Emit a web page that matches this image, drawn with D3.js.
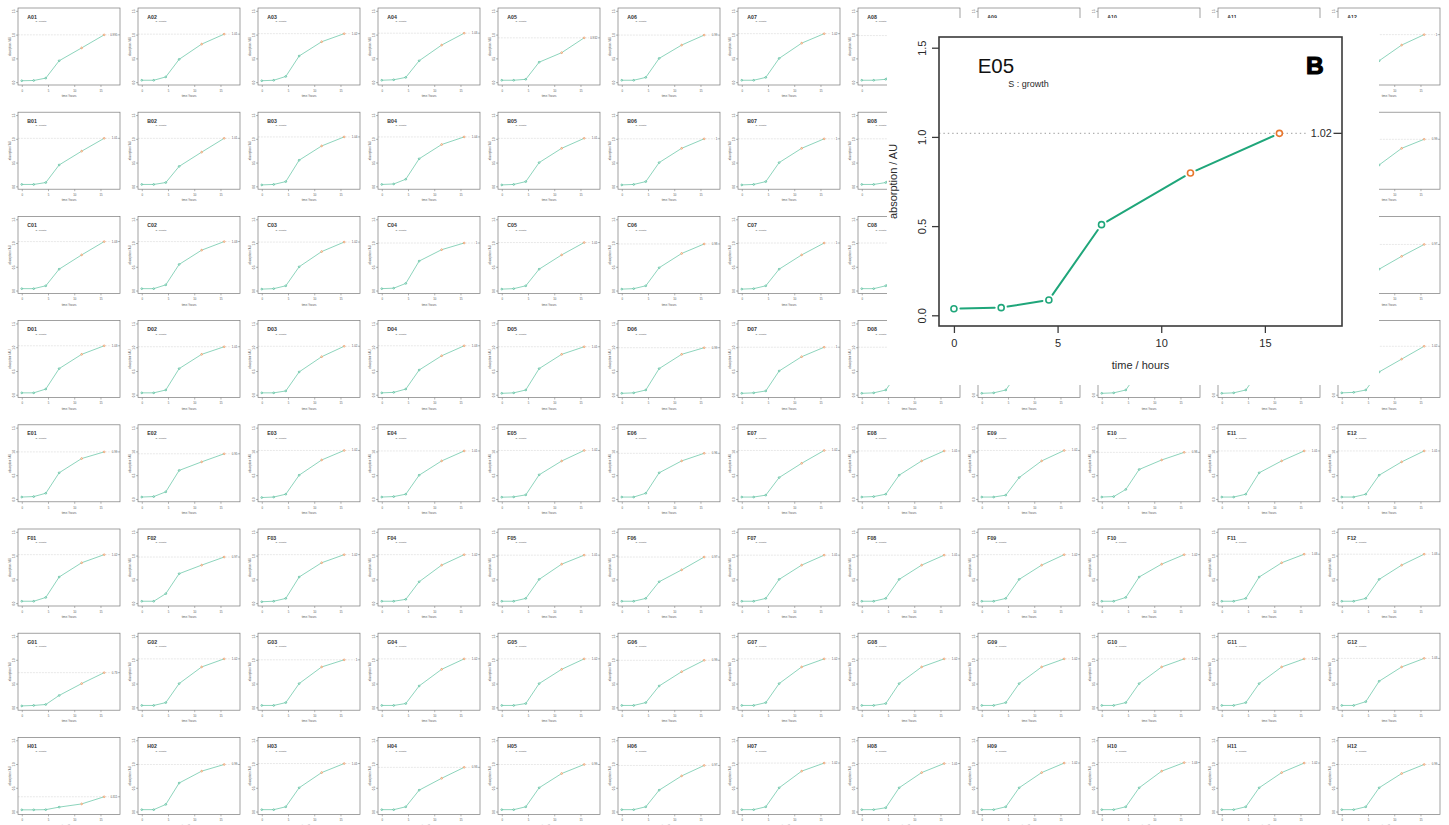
<!DOCTYPE html>
<html>
<head>
<meta charset="utf-8">
<script src="https://cdn.jsdelivr.net/npm/d3@7"></script>
<style>
  html, body { margin: 0; padding: 0; background: #fff; }
  svg { display: block; font-family: "Liberation Sans", Arial, Helvetica, sans-serif; }
</style>
</head>
<body>
<svg id="plate" width="1449" height="825"></svg>
<script>
// Sampling times (hours) shared by every well
const hours = [0, 2.28, 4.58, 7.12, 11.41, 15.7];
// Colour group of each sample: early points green, last two orange
const sampleGroup = ["early", "early", "early", "early", "late", "late"];
const rowLetters = ["A", "B", "C", "D", "E", "F", "G", "H"];
const colNumbers = ["01", "02", "03", "04", "05", "06", "07", "08", "09", "10", "11", "12"];
const xTicks = [0, 5, 10, 15];
const yTicks = [0, 0.5, 1.0, 1.5];
const xLimits = [0, 18];
const yLimits = [0, 1.5];
const statusText = "S : growth";
const xTitle = "time / hours";
const yTitle = "absorption / AU";
const zoomedWell = "E05";
const panelTag = "B";

// Absorption per well (one row of the plate per array); null = well not shown
const rowA = [
  [0.03, 0.035, 0.085, 0.45, 0.72, 0.995],
  [0.04, 0.04, 0.11, 0.48, 0.80, 1.01],
  [0.03, 0.04, 0.12, 0.55, 0.85, 1.02],
  [0.04, 0.05, 0.10, 0.45, 0.78, 1.03],
  [0.04, 0.04, 0.06, 0.42, 0.62, 0.932],
  [0.04, 0.04, 0.10, 0.50, 0.78, 0.99],
  [0.04, 0.04, 0.10, 0.50, 0.82, 1.02],
  [0.04, 0.04, 0.06, 0.45, 0.75, 0.98],
  null, null, null,
  [0.04, 0.04, 0.10, 0.45, 0.78, 1.00]
];
const rowB = [
  [0.04, 0.04, 0.08, 0.45, 0.74, 1.01],
  [0.04, 0.04, 0.08, 0.42, 0.72, 1.01],
  [0.03, 0.04, 0.10, 0.55, 0.85, 1.04],
  [0.04, 0.05, 0.15, 0.58, 0.88, 1.04],
  [0.03, 0.04, 0.10, 0.50, 0.80, 1.01],
  [0.03, 0.04, 0.10, 0.50, 0.80, 1.00],
  [0.03, 0.04, 0.10, 0.50, 0.80, 1.00],
  [0.04, 0.04, 0.08, 0.45, 0.75, 1.00],
  null, null, null,
  [0.04, 0.04, 0.10, 0.45, 0.80, 0.99]
];
const rowC = [
  [0.04, 0.04, 0.10, 0.45, 0.75, 1.03],
  [0.04, 0.04, 0.12, 0.55, 0.85, 1.03],
  [0.03, 0.04, 0.10, 0.50, 0.82, 1.02],
  [0.04, 0.05, 0.15, 0.62, 0.86, 1.00],
  [0.03, 0.04, 0.10, 0.45, 0.75, 1.01],
  [0.03, 0.04, 0.10, 0.48, 0.78, 0.98],
  [0.03, 0.04, 0.10, 0.45, 0.75, 1.00],
  [0.04, 0.04, 0.10, 0.45, 0.75, 1.00],
  null, null, null,
  [0.04, 0.04, 0.10, 0.45, 0.72, 0.97]
];
const rowD = [
  [0.04, 0.04, 0.12, 0.55, 0.85, 1.03],
  [0.04, 0.04, 0.10, 0.55, 0.85, 1.01],
  [0.04, 0.04, 0.08, 0.48, 0.80, 1.02],
  [0.04, 0.05, 0.12, 0.52, 0.82, 1.03],
  [0.03, 0.04, 0.10, 0.55, 0.85, 1.01],
  [0.03, 0.04, 0.10, 0.55, 0.85, 0.99],
  [0.03, 0.04, 0.08, 0.50, 0.80, 1.00],
  [0.03, 0.04, 0.10, 0.50, 0.80, 1.00],
  [0.03, 0.04, 0.10, 0.50, 0.80, 1.00],
  [0.03, 0.04, 0.10, 0.50, 0.80, 1.00],
  [0.03, 0.04, 0.10, 0.50, 0.80, 1.00],
  [0.04, 0.05, 0.10, 0.48, 0.75, 1.02]
];
const rowE = [
  [0.04, 0.05, 0.12, 0.55, 0.85, 0.99],
  [0.04, 0.05, 0.15, 0.60, 0.78, 0.95],
  [0.03, 0.04, 0.10, 0.50, 0.82, 1.02],
  [0.04, 0.05, 0.10, 0.50, 0.80, 1.01],
  [0.037, 0.043, 0.086, 0.508, 0.798, 1.02],
  [0.04, 0.04, 0.12, 0.55, 0.80, 0.96],
  [0.04, 0.04, 0.08, 0.45, 0.75, 1.02],
  [0.04, 0.05, 0.10, 0.50, 0.80, 1.01],
  [0.04, 0.04, 0.08, 0.45, 0.80, 1.02],
  [0.04, 0.05, 0.20, 0.62, 0.82, 0.98],
  [0.04, 0.04, 0.10, 0.55, 0.80, 1.01],
  [0.04, 0.04, 0.10, 0.50, 0.78, 1.01]
];
const rowF = [
  [0.04, 0.04, 0.12, 0.55, 0.85, 1.02],
  [0.04, 0.04, 0.20, 0.62, 0.80, 0.97],
  [0.03, 0.04, 0.10, 0.55, 0.85, 1.02],
  [0.04, 0.04, 0.08, 0.45, 0.80, 1.02],
  [0.04, 0.04, 0.10, 0.50, 0.82, 1.01],
  [0.04, 0.04, 0.10, 0.45, 0.70, 0.97],
  [0.04, 0.04, 0.10, 0.50, 0.80, 1.01],
  [0.04, 0.04, 0.10, 0.50, 0.80, 1.01],
  [0.04, 0.04, 0.10, 0.50, 0.80, 1.02],
  [0.04, 0.04, 0.12, 0.55, 0.82, 1.02],
  [0.04, 0.04, 0.10, 0.55, 0.85, 1.03],
  [0.04, 0.04, 0.10, 0.50, 0.80, 1.03]
];
const rowG = [
  [0.03, 0.04, 0.06, 0.25, 0.50, 0.73],
  [0.04, 0.04, 0.10, 0.50, 0.85, 1.02],
  [0.04, 0.04, 0.10, 0.50, 0.85, 1.00],
  [0.04, 0.04, 0.08, 0.45, 0.80, 1.02],
  [0.04, 0.04, 0.08, 0.50, 0.80, 1.02],
  [0.04, 0.04, 0.10, 0.45, 0.75, 0.99],
  [0.04, 0.04, 0.10, 0.50, 0.85, 1.02],
  [0.04, 0.04, 0.08, 0.50, 0.85, 1.02],
  [0.04, 0.04, 0.10, 0.50, 0.85, 1.02],
  [0.04, 0.04, 0.10, 0.50, 0.85, 1.02],
  [0.04, 0.04, 0.10, 0.50, 0.85, 1.02],
  [0.04, 0.04, 0.12, 0.55, 0.85, 1.03]
];
const rowH = [
  [0.036, 0.036, 0.04, 0.093, 0.16, 0.311],
  [0.04, 0.04, 0.15, 0.60, 0.85, 0.99],
  [0.04, 0.04, 0.10, 0.50, 0.82, 1.01],
  [0.04, 0.04, 0.10, 0.45, 0.70, 0.93],
  [0.04, 0.04, 0.10, 0.50, 0.80, 0.99],
  [0.04, 0.04, 0.10, 0.45, 0.75, 0.97],
  [0.04, 0.04, 0.10, 0.50, 0.85, 1.02],
  [0.04, 0.04, 0.08, 0.50, 0.82, 1.01],
  [0.04, 0.04, 0.10, 0.50, 0.82, 1.02],
  [0.04, 0.04, 0.10, 0.50, 0.85, 1.03],
  [0.04, 0.04, 0.10, 0.50, 0.82, 1.02],
  [0.04, 0.04, 0.10, 0.50, 0.80, 0.99]
];
const plateRows = [rowA, rowB, rowC, rowD, rowE, rowF, rowG, rowH];

const lineColor = "#1fa67a";
const pointColor = { early: "#1fa67a", late: "#e8772e" };
const fmtValue = d3.format(".3~");
const fmtTick = d3.format(".1f");

// Geometry of a small well plot (relative to its grid cell) and of the enlarged one
const thumb = {
  left: 18, right: 120, top: 8, bottom: 85,
  tick: 2, yTickX: 13.6, xTickY: 91.8, xTitleY: 97.3, yTitleX: 10.5,
  tickFont: 2.8, titleFont: 5.2, titleX: 27.3, titleY: 18.6, subX: 35.5, subY: 22.2, subFont: 2.4,
  labelFont: 2.8, valTick: 2.3, gap: 1.2, r: 0.85, lw: 0.7, pStroke: 0.6, frame: 0.7,
  dash: "0.6,0.9", frameColor: "#7a7a7a", textColor: "#555", titleColor: "#333", titleWeight: "bold",
  lineColor: "#5cc29f"
};
const inset = {
  left: 939, right: 1342, top: 37, bottom: 326,
  tick: 7, yTickX: 921.7, xTickY: 347, xTitleY: 369, yTitleX: 897,
  tickFont: 11, titleFont: 20.5, titleX: 977.7, titleY: 73.3, subX: 1008.3, subY: 87.3, subFont: 9,
  labelFont: 10.8, valTick: 8.5, gap: 6.5, r: 3, lw: 2, pStroke: 1.6, frame: 1.6,
  dash: "1.4,3", frameColor: "#3a3a3a", textColor: "#2a2a2a", titleColor: "#111", titleWeight: "normal",
  lineColor: lineColor
};

function padded(lim) {
  const d = (lim[1] - lim[0]) * 0.04;
  return [lim[0] - d, lim[1] + d];
}

function drawWell(g, L, name, values) {
  const x = d3.scaleLinear().domain(padded(xLimits)).range([L.left, L.right]);
  const y = d3.scaleLinear().domain(padded(yLimits)).range([L.bottom, L.top]);

  // axes: ticks outside the frame, labels parallel to each axis
  const ax = g.append("g").attr("transform", `translate(0,${L.bottom})`)
    .call(d3.axisBottom(x).tickValues(xTicks).tickSize(L.tick).tickFormat(d3.format("d")));
  const ay = g.append("g").attr("transform", `translate(${L.left},0)`)
    .call(d3.axisLeft(y).tickValues(yTicks).tickSize(L.tick).tickFormat(fmtTick));
  [ax, ay].forEach(a => {
    a.select(".domain").remove();
    a.selectAll("line").attr("stroke", L.frameColor).attr("stroke-width", L.frame * 0.8);
    a.selectAll("text").attr("font-size", L.tickFont).attr("fill", L.textColor).attr("font-family", null);
  });
  ax.selectAll("text").attr("y", null).attr("dy", null)
    .attr("transform", `translate(0,${L.xTickY - L.bottom})`);
  ay.selectAll("text").attr("x", null).attr("dy", null).attr("text-anchor", "middle")
    .attr("transform", `translate(${L.yTickX - L.left + L.tickFont * 0.36},0) rotate(-90)`);

  g.append("text").attr("x", (L.left + L.right) / 2).attr("y", L.xTitleY)
    .attr("text-anchor", "middle").attr("font-size", L.tickFont).attr("fill", L.textColor).text(xTitle);
  g.append("text").attr("transform", `translate(${L.yTitleX},${(L.top + L.bottom) / 2}) rotate(-90)`)
    .attr("text-anchor", "middle").attr("font-size", L.tickFont).attr("fill", L.textColor).text(yTitle);

  if (values) {
    const last = values[values.length - 1];
    const label = fmtValue(last);
    const labelRight = L.right - L.valTick - L.labelFont * 0.15;
    const labelWidth = label.length * L.labelFont * 0.53;
    g.append("line")
      .attr("x1", L.left).attr("x2", labelRight - labelWidth - L.labelFont * 0.2)
      .attr("y1", y(last)).attr("y2", y(last))
      .attr("stroke", "#b0b0b0").attr("stroke-width", L.frame * 0.7).attr("stroke-dasharray", L.dash);
    g.append("line")
      .attr("x1", L.right - L.valTick).attr("x2", L.right)
      .attr("y1", y(last)).attr("y2", y(last))
      .attr("stroke", L.frameColor).attr("stroke-width", L.frame * 0.8);
    g.append("text").attr("x", labelRight).attr("y", y(last)).attr("dy", "0.35em")
      .attr("text-anchor", "end").attr("font-size", L.labelFont).attr("fill", L.textColor).text(label);

    // connecting segments with a small gap around each sample marker
    const pts = values.map((v, i) => [x(hours[i]), y(v), sampleGroup[i]]);
    const segs = d3.pairs(pts).map(([a, b]) => {
      const dx = b[0] - a[0], dy = b[1] - a[1], len = Math.hypot(dx, dy);
      const k = Math.min(L.gap / len, 0.45);
      return [a[0] + dx * k, a[1] + dy * k, b[0] - dx * k, b[1] - dy * k];
    });
    g.append("g").selectAll("line").data(segs).join("line")
      .attr("x1", d => d[0]).attr("y1", d => d[1]).attr("x2", d => d[2]).attr("y2", d => d[3])
      .attr("stroke", L.lineColor).attr("stroke-width", L.lw).attr("stroke-linecap", "round");
    g.append("g").selectAll("circle").data(pts).join("circle")
      .attr("cx", d => d[0]).attr("cy", d => d[1]).attr("r", L.r)
      .attr("fill", "#fff").attr("stroke", d => pointColor[d[2]]).attr("stroke-width", L.pStroke);
  }

  g.append("rect").attr("x", L.left).attr("y", L.top)
    .attr("width", L.right - L.left).attr("height", L.bottom - L.top)
    .attr("fill", "none").attr("stroke", L.frameColor).attr("stroke-width", L.frame);

  g.append("text").attr("x", L.titleX).attr("y", L.titleY).attr("font-size", L.titleFont)
    .attr("font-weight", L.titleWeight).attr("fill", L.titleColor).text(name);
  g.append("text").attr("x", L.subX).attr("y", L.subY).attr("font-size", L.subFont)
    .attr("fill", L.textColor).text(statusText);
}

const svg = d3.select("#plate");
const colPitch = 120, rowPitch = 104.2;

// the full 96-well plate
plateRows.forEach((row, r) => {
  row.forEach((values, c) => {
    const cell = svg.append("g").attr("transform", `translate(${c * colPitch},${r * rowPitch})`);
    drawWell(cell, thumb, rowLetters[r] + colNumbers[c], values);
  });
});

// enlarged view of one well laid over the plate
svg.append("rect").attr("x", 887).attr("y", 18).attr("width", 492).attr("height", 367).attr("fill", "#fff");
const zr = rowLetters.indexOf(zoomedWell[0]);
const zc = colNumbers.indexOf(zoomedWell.slice(1));
drawWell(svg.append("g"), inset, zoomedWell, plateRows[zr][zc]);
svg.append("text").attr("x", 1306).attr("y", 74.3).attr("font-size", 24.5).attr("font-weight", "bold")
  .attr("fill", "#000").attr("stroke", "#000").attr("stroke-width", 1.1).text(panelTag);
</script>
</body>
</html>
